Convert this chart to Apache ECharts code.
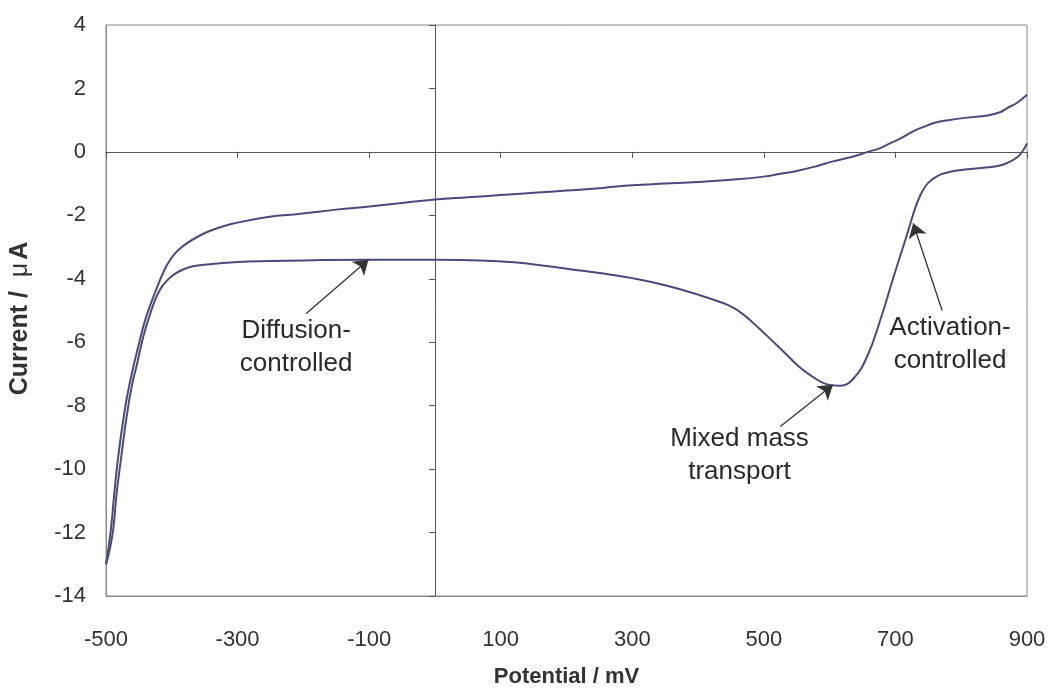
<!DOCTYPE html>
<html>
<head>
<meta charset="utf-8">
<script src="https://cdn.jsdelivr.net/npm/echarts@6/dist/echarts.min.js"></script>
<style>html,body{margin:0;padding:0;background:#fff;}#c{width:1049px;height:693px;}</style>
</head>
<body>
<div id="c"></div>
<script>
// Forward (lower) branch
const potentialForward = [-500,-495,-489,-484,-478,-468,-460,-453,-443,-432,-424,-416,-406,-397,-382,-366,-330,-300,-250,-200,-100,0,70,120,170,221,270,300,353,400,440,454,467,480,492,505,530,555,575,595,616,636,657,677,697,717,733,745,757,770,785,809,833,859,875,885,892,900];
const currentForward   = [-13.0,-12.6,-11.9,-10.8,-9.8,-8.25,-7.3,-6.7,-5.8,-5.05,-4.6,-4.28,-4.03,-3.87,-3.7,-3.6,-3.52,-3.47,-3.44,-3.42,-3.4,-3.4,-3.42,-3.48,-3.6,-3.74,-3.88,-3.98,-4.22,-4.5,-4.78,-4.92,-5.1,-5.32,-5.55,-5.8,-6.3,-6.8,-7.1,-7.32,-7.37,-7.15,-6.45,-5.3,-3.95,-2.65,-1.6,-1.1,-0.85,-0.7,-0.62,-0.55,-0.5,-0.43,-0.3,-0.17,-0.02,0.27];
// Reverse (upper) branch
const potentialReverse = [900,885,870,859,840,809,780,760,748,730,707,690,677,658,640,605,580,550,525,500,450,400,350,300,271,250,200,150,100,50,0,-50,-100,-150,-204,-254,-305,-330,-356,-381,-395,-406,-414,-421,-430,-439,-447,-457,-465,-472,-482,-488,-492,-497,-500];
const currentReverse   = [1.8,1.55,1.38,1.25,1.15,1.08,1.0,0.92,0.83,0.68,0.42,0.25,0.12,0.0,-0.12,-0.3,-0.45,-0.6,-0.69,-0.78,-0.88,-0.95,-1.0,-1.05,-1.1,-1.15,-1.22,-1.29,-1.36,-1.43,-1.5,-1.61,-1.72,-1.82,-1.95,-2.05,-2.25,-2.4,-2.62,-2.94,-3.2,-3.52,-3.85,-4.2,-4.68,-5.2,-5.8,-6.65,-7.4,-8.2,-9.7,-10.9,-11.8,-12.6,-13.0];

// Annotations
const annoText  = ['Diffusion-\ncontrolled', 'Mixed mass\ntransport', 'Activation-\ncontrolled'];
const annoLabel = [[-211, -6.16], [463, -9.56], [783, -6.06]];
const annoTail  = [[-196, -5.1], [525, -8.66], [771, -5.0]];
const annoTip   = [[-101, -3.4], [605, -7.34], [727, -2.25]];

const xTicks = { min: -500, max: 900, interval: 200 };
const yTicks = { min: -14, max: 4, interval: 2 };

const zip = (a, b) => a.map((v, i) => [v, b[i]]);
const lineColor = '#4a4a7e';
const font = 'Liberation Sans, Arial, sans-serif';

const chart = echarts.init(document.getElementById('c'), null, { renderer: 'canvas' });
chart.setOption({
  animation: false,
  backgroundColor: '#fff',
  grid: { left: 105, right: 22, top: 25, bottom: 92, show: true, borderColor: '#8a8a8a', borderWidth: 1, backgroundColor: 'transparent' },
  xAxis: [
    {
      type: 'value', position: 'bottom', ...xTicks,
      axisLine: { show: true, onZero: false, lineStyle: { color: '#8a8a8a', width: 1 } },
      axisTick: { show: false }, splitLine: { show: false },
      axisLabel: { show: true, fontSize: 22, color: '#333', fontFamily: font, margin: 33 },
      name: 'Potential / mV', nameLocation: 'middle', nameGap: 70,
      nameTextStyle: { fontSize: 22, fontWeight: 'bold', color: '#333', fontFamily: font }
    },
    {
      type: 'value', position: 'top', ...xTicks,
      axisLine: { show: true, onZero: true, onZeroAxisIndex: 0, lineStyle: { color: '#555', width: 1 } },
      axisTick: { show: true, inside: true, length: 6, lineStyle: { color: '#555' } },
      splitLine: { show: false }, axisLabel: { show: false }
    }
  ],
  yAxis: [
    {
      type: 'value', position: 'left', ...yTicks,
      axisLine: { show: true, onZero: false, lineStyle: { color: '#8a8a8a', width: 1 } },
      axisTick: { show: false }, splitLine: { show: false },
      axisLabel: { show: true, fontSize: 22, color: '#333', fontFamily: font, margin: 20 },
      name: '{b|Current /  }{m|μ}{b|A}', nameLocation: 'middle', nameGap: 73, nameRotate: 90,
      nameTextStyle: {
        fontSize: 25, fontWeight: 'bold', color: '#333', fontFamily: font, padding: [0, 16, 0, 0],
        rich: {
          b: { fontSize: 25, fontWeight: 'bold', color: '#333', fontFamily: font },
          m: { fontSize: 25, fontWeight: 'normal', color: '#333', fontFamily: font, padding: [0, 3, 0, 0] }
        }
      }
    },
    {
      type: 'value', position: 'right', ...yTicks,
      axisLine: { show: true, onZero: true, onZeroAxisIndex: 0, lineStyle: { color: '#555', width: 1 } },
      axisTick: { show: true, inside: true, length: 6, lineStyle: { color: '#555' } },
      splitLine: { show: false }, axisLabel: { show: false }
    }
  ],
  series: [
    {
      name: 'Forward', type: 'line', xAxisIndex: 0, yAxisIndex: 0,
      data: zip(potentialForward, currentForward), showSymbol: false, smooth: 0.45,
      lineStyle: { color: lineColor, width: 2 }, z: 3
    },
    {
      name: 'Reverse', type: 'line', xAxisIndex: 0, yAxisIndex: 0,
      data: zip(potentialReverse, currentReverse), showSymbol: false, smooth: 0.45,
      lineStyle: { color: lineColor, width: 2 }, z: 3,
      markLine: {
        silent: true, symbol: ['none', 'arrow'], symbolSize: 14,
        label: { show: false },
        lineStyle: { color: '#333', width: 1.3, type: 'solid' },
        data: annoTail.map((t, i) => [{ coord: t }, { coord: annoTip[i] }])
      },
      markPoint: {
        silent: true, symbol: 'circle', symbolSize: 0,
        label: { show: true, position: 'inside', formatter: '{b}', fontSize: 26, color: '#2a2a2a', fontFamily: font, lineHeight: 33, align: 'center' },
        data: annoText.map((t, i) => ({ name: t, coord: annoLabel[i] }))
      }
    }
  ]
});
</script>
</body>
</html>
